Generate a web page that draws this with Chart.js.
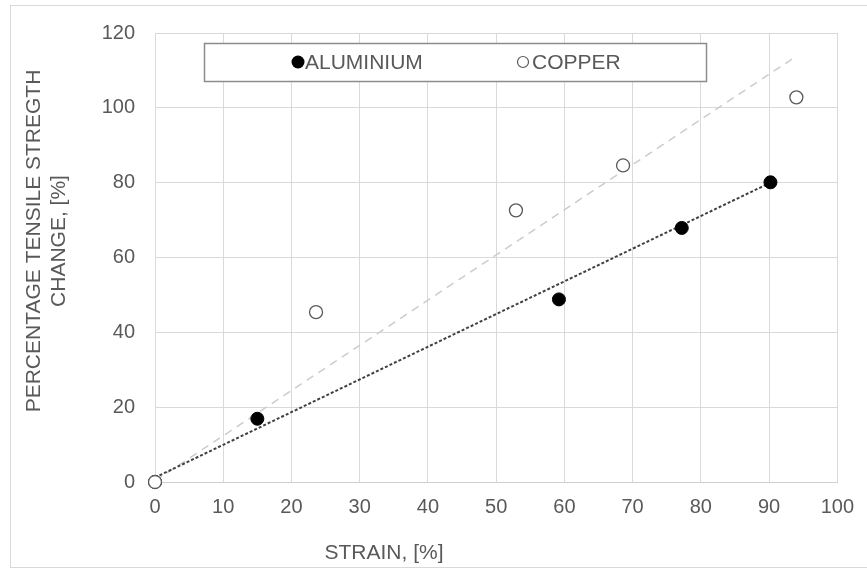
<!DOCTYPE html>
<html>
<head>
<meta charset="utf-8">
<script src="https://cdn.jsdelivr.net/npm/chart.js@4"></script>
<style>
  html, body { margin: 0; padding: 0; background: #ffffff; }
  #wrap { width: 867px; height: 569px; position: relative; }
</style>
</head>
<body>
<div id="wrap"><canvas id="c" width="867" height="569"></canvas></div>
<script>
// ---- data ----
const aluminiumStrain = [0, 15, 59.2, 77.2, 90.2];
const aluminiumChange = [0, 16.9, 48.8, 67.9, 80.1];
const copperStrain    = [0, 23.6, 52.9, 68.6, 94.0];
const copperChange    = [0, 45.4, 72.6, 84.6, 102.8];
// trend lines (end points)
const aluminiumTrendX = [0, 90.2];
const aluminiumTrendY = [1.2, 80.0];
const copperTrendX    = [0, 94.0];
const copperTrendY    = [0.3, 113.8];
const seriesLabels = ['ALUMINIUM', 'COPPER'];
const xTitle = 'STRAIN, [%]';
const yTitle = ['PERCENTAGE TENSILE STREGTH', 'CHANGE, [%]'];

const pts = (xs, ys) => xs.map((x, i) => ({ x: x, y: ys[i] }));
const TXT = '#595959';
const FONT = 'Liberation Sans, Arial, sans-serif';

const framePlugin = {
  id: 'frame',
  beforeDraw(chart) {
    const ctx = chart.ctx;
    ctx.save();
    ctx.fillStyle = '#ffffff';
    ctx.fillRect(0, 0, chart.width, chart.height);
    ctx.strokeStyle = '#d9d9d9';
    ctx.lineWidth = 1;
    ctx.strokeRect(10.5, 5.5, 900, 562);
    ctx.restore();
  },
  afterDraw(chart) {
    const ctx = chart.ctx;
    ctx.save();
    // axis titles
    ctx.fillStyle = TXT;
    ctx.font = '21px ' + FONT;
    ctx.textAlign = 'center';
    ctx.textBaseline = 'middle';
    ctx.fillText(xTitle, 384, 553);
    ctx.save();
    ctx.translate(34, 241);
    ctx.rotate(-Math.PI / 2);
    ctx.fillText(yTitle[0], 0, 0);
    ctx.fillText(yTitle[1], 0, 25);
    ctx.restore();
    // legend box
    ctx.fillStyle = '#ffffff';
    ctx.fillRect(204, 43, 503, 39);
    ctx.strokeStyle = '#8c8c8c';
    ctx.lineWidth = 1.5;
    ctx.strokeRect(204.5, 43.5, 502, 38);
    // legend items
    const cy = 62;
    ctx.beginPath();
    ctx.arc(298, cy, 6.5, 0, Math.PI * 2);
    ctx.fillStyle = '#000000';
    ctx.fill();
    ctx.beginPath();
    ctx.arc(523, cy, 5.5, 0, Math.PI * 2);
    ctx.fillStyle = '#ffffff';
    ctx.fill();
    ctx.strokeStyle = '#595959';
    ctx.lineWidth = 1.2;
    ctx.stroke();
    ctx.fillStyle = TXT;
    ctx.font = '21px ' + FONT;
    ctx.textAlign = 'left';
    ctx.fillText(seriesLabels[0], 305, cy + 1);
    ctx.fillText(seriesLabels[1], 532, cy + 1);
    ctx.restore();
  }
};

new Chart(document.getElementById('c'), {
  type: 'scatter',
  data: {
    datasets: [
      {
        label: seriesLabels[1],
        data: pts(copperStrain, copperChange),
        pointRadius: 6.5,
        pointHoverRadius: 6.5,
        pointBackgroundColor: '#ffffff',
        pointBorderColor: '#5a5a5a',
        pointBorderWidth: 1.3,
        clip: false,
        order: 0
      },
      {
        label: seriesLabels[0],
        data: pts(aluminiumStrain, aluminiumChange),
        pointRadius: 6.5,
        pointHoverRadius: 6.5,
        pointBackgroundColor: '#000000',
        pointBorderColor: '#000000',
        pointBorderWidth: 1,
        clip: false,
        order: 1
      },
      {
        label: 'Aluminium trend',
        data: pts(aluminiumTrendX, aluminiumTrendY),
        showLine: true,
        pointRadius: 0,
        borderColor: '#404040',
        borderWidth: 2,
        borderDash: [3, 2],
        order: 2
      },
      {
        label: 'Copper trend',
        data: pts(copperTrendX, copperTrendY),
        showLine: true,
        pointRadius: 0,
        borderColor: '#cccccc',
        borderWidth: 1.5,
        borderDash: [8, 6],
        order: 3
      }
    ]
  },
  options: {
    responsive: false,
    animation: false,
    devicePixelRatio: 1,
    layout: { padding: { top: 33, right: 29, left: 0, bottom: 0 } },
    plugins: { legend: { display: false }, tooltip: { enabled: false } },
    scales: {
      x: {
        type: 'linear',
        min: 0, max: 100,
        ticks: { stepSize: 10, color: TXT, font: { family: FONT, size: 20 }, padding: 13 },
        grid: { color: '#d9d9d9', lineWidth: 1, drawTicks: false },
        border: { color: '#d0d0d0' },
        afterFit(s) { s.height = 87; }
      },
      y: {
        type: 'linear',
        min: 0, max: 120,
        ticks: { stepSize: 20, color: TXT, font: { family: FONT, size: 20 }, padding: 20 },
        grid: { color: '#d9d9d9', lineWidth: 1, drawTicks: false },
        border: { color: '#d9d9d9' },
        afterFit(s) { s.width = 155; }
      }
    }
  },
  plugins: [framePlugin]
});
</script>
</body>
</html>
